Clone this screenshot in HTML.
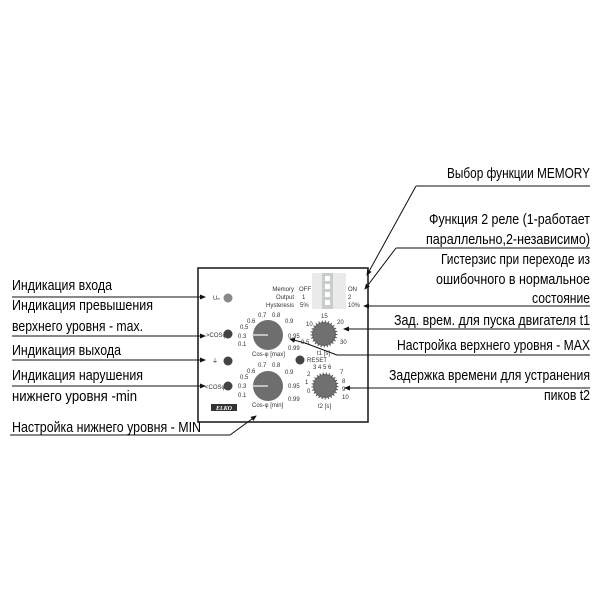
<!DOCTYPE html>
<html><head><meta charset="utf-8"><style>
html,body{margin:0;padding:0;background:#fff;}
svg{display:block;}
.l{font-family:"Liberation Sans",sans-serif;font-size:15px;fill:#000;}
.s{font-family:"Liberation Sans",sans-serif;font-size:6px;fill:#333;}
</style></head><body>
<svg width="600" height="600" viewBox="0 0 600 600" xmlns="http://www.w3.org/2000/svg">
<defs><marker id="a" markerWidth="6" markerHeight="6" refX="5" refY="3" orient="auto"><path d="M0,0.5 L6,3 L0,5.5z" fill="#111"/></marker></defs>
<rect x="198" y="268" width="170" height="154" fill="#fff" stroke="#222" stroke-width="1.6"/>
<rect x="312" y="273" width="34" height="36" fill="#e8ebea"/>
<rect x="322" y="273" width="11" height="36" fill="#c8cccc"/>
<rect x="325" y="276" width="5" height="5" fill="#fff"/><rect x="325" y="284" width="5" height="5" fill="#fff"/><rect x="325" y="292" width="5" height="5" fill="#fff"/><rect x="325" y="300" width="5" height="5" fill="#fff"/>
<text class="s" x="294" y="291" text-anchor="end">Memory</text><text class="s" x="299" y="291">OFF</text><text class="s" x="348" y="291">ON</text>
<text class="s" x="294" y="299" text-anchor="end">Output</text><text class="s" x="302" y="299">1</text><text class="s" x="348" y="299">2</text>
<text class="s" x="294" y="307" text-anchor="end">Hysteresis</text><text class="s" x="300" y="307">5%</text><text class="s" x="348" y="307">10%</text>
<text class="s" x="213" y="300">Uₙ</text><circle cx="228" cy="298" r="4.5" fill="#888"/>
<text class="s" x="206" y="337">&gt;COSφ</text><circle cx="228" cy="334" r="4.5" fill="#444"/>
<text class="s" x="212" y="363">⏚</text><circle cx="228" cy="361" r="4.5" fill="#444"/>
<text class="s" x="205" y="389">&lt;COSφ</text><circle cx="228" cy="386" r="4.5" fill="#444"/>
<circle cx="300" cy="360" r="4.5" fill="#444"/><text class="s" x="307" y="362">RESET</text>
<circle cx="268" cy="335" r="15" fill="#6e6e6e"/><line x1="252" y1="335" x2="268" y2="335" stroke="#ddd" stroke-width="1.5"/>
<text class="s" x="247" y="323">0.6</text><text class="s" x="258" y="317">0.7</text><text class="s" x="272" y="317">0.8</text><text class="s" x="285" y="323">0.9</text>
<text class="s" x="240" y="329">0.5</text><text class="s" x="238" y="338">0.3</text><text class="s" x="238" y="346">0.1</text><text class="s" x="288" y="338">0.95</text><text class="s" x="288" y="350">0.99</text>
<text class="s" x="252" y="356">Cos-φ [max]</text>
<circle cx="268" cy="386" r="15" fill="#6e6e6e"/><line x1="252" y1="386" x2="268" y2="386" stroke="#ddd" stroke-width="1.5"/>
<text class="s" x="247" y="373">0.6</text><text class="s" x="258" y="367">0.7</text><text class="s" x="272" y="367">0.8</text><text class="s" x="285" y="374">0.9</text>
<text class="s" x="240" y="379">0.5</text><text class="s" x="238" y="388">0.3</text><text class="s" x="238" y="397">0.1</text><text class="s" x="288" y="388">0.95</text><text class="s" x="288" y="401">0.99</text>
<text class="s" x="252" y="407">Cos-φ [min]</text>
<circle cx="324" cy="334" r="12" fill="#707070" stroke="#555" stroke-width="3" stroke-dasharray="1 2"/>
<text class="s" x="306" y="326">10</text><text class="s" x="321" y="318">15</text><text class="s" x="337" y="324">20</text><text class="s" x="301" y="344">0.5</text><text class="s" x="340" y="344">30</text><text class="s" x="317" y="355">t1 [s]</text>
<circle cx="325" cy="386" r="12" fill="#707070" stroke="#555" stroke-width="3" stroke-dasharray="1 2"/>
<text class="s" x="313" y="369">3 4 5 6</text><text class="s" x="307" y="376">2</text><text class="s" x="340" y="374">7</text><text class="s" x="305" y="384">1</text><text class="s" x="342" y="383">8</text><text class="s" x="307" y="393">0</text><text class="s" x="342" y="391">9</text><text class="s" x="342" y="399">10</text><text class="s" x="318" y="408">t2 [s]</text>
<rect x="211" y="404" width="26" height="7" fill="#333"/><text x="224" y="410" text-anchor="middle" font-family="Liberation Serif,serif" font-size="6" font-weight="bold" font-style="italic" fill="#fff">ELKO</text>
<g stroke="#111" stroke-width="1" fill="none">
<line x1="12" y1="297" x2="205" y2="297" marker-end="url(#a)"/>
<line x1="12" y1="336" x2="205" y2="336" marker-end="url(#a)"/>
<line x1="12" y1="360" x2="205" y2="360" marker-end="url(#a)"/>
<line x1="12" y1="386" x2="205" y2="386" marker-end="url(#a)"/>
<polyline points="10,435 230,435 256,416" marker-end="url(#a)"/>
<line x1="590" y1="186" x2="416" y2="186"/><line x1="416" y1="186" x2="367" y2="275" marker-end="url(#a)"/>
<line x1="590" y1="248" x2="396" y2="248"/><line x1="396" y1="248" x2="365" y2="289" marker-end="url(#a)"/>
<line x1="590" y1="306" x2="364" y2="306" marker-end="url(#a)"/>
<line x1="590" y1="329" x2="344" y2="329" marker-end="url(#a)"/>
<line x1="590" y1="355" x2="337" y2="355"/><line x1="337" y1="355" x2="305" y2="343"/><line x1="305" y1="343" x2="290" y2="339" marker-end="url(#a)"/>
<line x1="590" y1="388" x2="345" y2="388" marker-end="url(#a)"/>
</g>
<g class="l">
<text x="12" y="290" textLength="100" lengthAdjust="spacingAndGlyphs">Индикация входа</text>
<text x="12" y="310" textLength="141" lengthAdjust="spacingAndGlyphs">Индикация превышения</text>
<text x="12" y="331" textLength="131" lengthAdjust="spacingAndGlyphs">верхнего уровня - max.</text>
<text x="12" y="355" textLength="109" lengthAdjust="spacingAndGlyphs">Индикация выхода</text>
<text x="12" y="380" textLength="131" lengthAdjust="spacingAndGlyphs">Индикация нарушения</text>
<text x="12" y="401" textLength="125" lengthAdjust="spacingAndGlyphs">нижнего уровня -min</text>
<text x="12" y="432" textLength="189" lengthAdjust="spacingAndGlyphs">Настройка нижнего уровня - MIN</text>
<text x="590" y="178" text-anchor="end" textLength="143" lengthAdjust="spacingAndGlyphs">Выбор функции MEMORY</text>
<text x="590" y="224" text-anchor="end" textLength="161" lengthAdjust="spacingAndGlyphs">Функция 2 реле (1-работает</text>
<text x="590" y="244" text-anchor="end" textLength="164" lengthAdjust="spacingAndGlyphs">параллельно,2-независимо)</text>
<text x="590" y="264" text-anchor="end" textLength="149" lengthAdjust="spacingAndGlyphs">Гистерзис при переходе из</text>
<text x="590" y="284" text-anchor="end" textLength="154" lengthAdjust="spacingAndGlyphs">ошибочного в нормальное</text>
<text x="590" y="303" text-anchor="end" textLength="58" lengthAdjust="spacingAndGlyphs">состояние</text>
<text x="590" y="325" text-anchor="end" textLength="196" lengthAdjust="spacingAndGlyphs">Зад. врем. для пуска двигателя t1</text>
<text x="590" y="350" text-anchor="end" textLength="193" lengthAdjust="spacingAndGlyphs">Настройка верхнего уровня - MAX</text>
<text x="590" y="380" text-anchor="end" textLength="201" lengthAdjust="spacingAndGlyphs">Задержка времени для устранения</text>
<text x="590" y="400" text-anchor="end" textLength="46" lengthAdjust="spacingAndGlyphs">пиков t2</text>
</g>
</svg>
</body></html>
